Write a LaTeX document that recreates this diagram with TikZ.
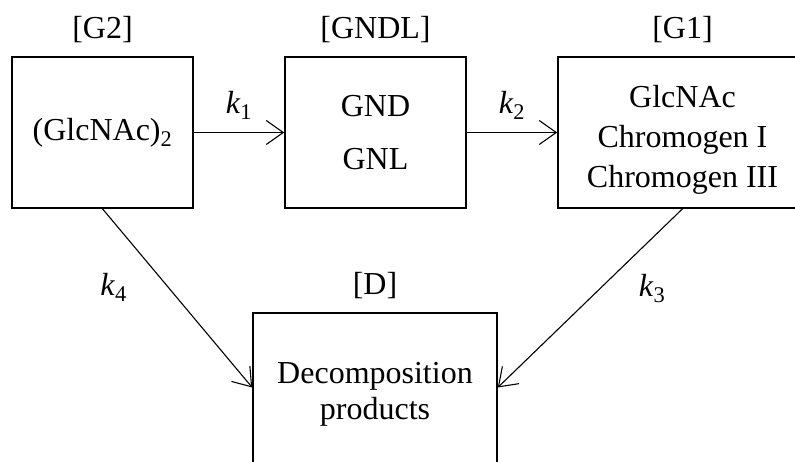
\documentclass[tikz,border=0pt]{standalone}
\usepackage{fontspec}
\setmainfont{Liberation Serif}
\usetikzlibrary{arrows.meta,positioning}

\begin{document}
\begin{tikzpicture}[x=1pt,y=1pt,
	font=\fontsize{32}{40}\selectfont,
	pool/.style={draw,line width=1.6pt,minimum height=151pt,align=center,inner sep=0pt},
	tag/.style={inner sep=0pt},
	rate/.style={inner sep=0pt},
	flow/.style={-{Straight Barb[length=17pt,width=24pt]},line width=1.1pt}]
	\useasboundingbox (0,0) rectangle (795,461);
	\clip (0,0) rectangle (795,461);
	% pools
	\node[pool,minimum width=181pt] (g2) at (102.5,328.5) {(GlcNAc)\textsubscript{2}};
	\node[pool,minimum width=181pt] (gndl) at (375.5,328.5) {GND\\[13pt]GNL};
	\node[pool,minimum width=249pt] (g1) at (682.5,328.5) {\rule{0pt}{37pt}GlcNAc\\Chromogen I\\Chromogen III};
	\node[pool,minimum width=244pt,minimum height=163pt] (d) at (375,66.5) {Decomposition\\[-4pt]products};
	% concentrations
	\node[tag,above=13pt of g2] (g2tag) {[G2]};
	\node[tag,above=13pt of gndl] (gndltag) {[GNDL]};
	\node[tag,above=13pt of g1] (g1tag) {[G1]};
	\node[tag,above=13pt of d] (dtag) {[D]};
	% reactions
	\draw[flow] (g2) -- node[rate,above=12pt] {\textit{k}\textsubscript{1}} (gndl);
	\draw[flow] (gndl) -- node[rate,above=12pt] {\textit{k}\textsubscript{2}} (g1);
	\draw[flow] (g1.south) -- node[rate,pos=0.445,right=38pt] {\textit{k}\textsubscript{3}} ([yshift=7pt]d.east);
	\draw[flow] (g2.south) -- node[rate,pos=0.44,left=41pt] {\textit{k}\textsubscript{4}} ([yshift=7pt]d.west);
\end{tikzpicture}
\end{document}
